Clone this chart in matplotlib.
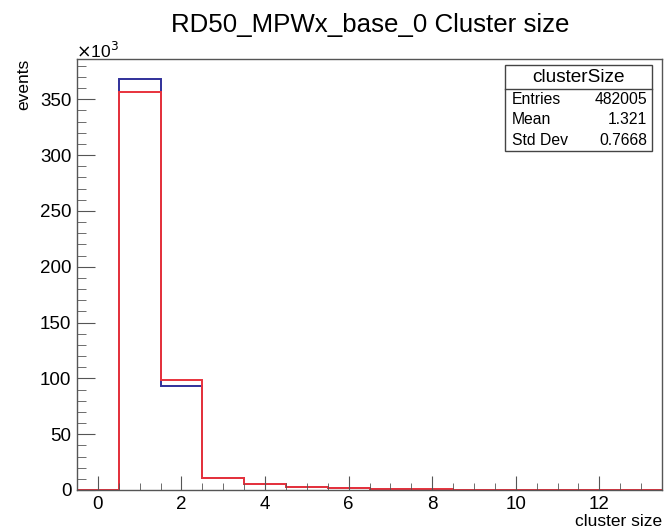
import numpy as np
import matplotlib.pyplot as plt
from matplotlib.ticker import MultipleLocator, FuncFormatter
from matplotlib.patches import Rectangle

plt.rcParams['font.family'] = ['Liberation Sans', 'DejaVu Sans']

# cluster size histogram, 14 unit bins centred on 0..13
bin_edges = np.arange(-0.5, 14.0, 1.0)
counts_blue = [0, 368000, 93400, 10500, 5000, 2400, 1400, 700, 400, 300, 200, 0, 0, 0]
counts_red = [0, 356000, 98300, 11000, 5600, 2800, 1700, 900, 500, 300, 200, 100, 50, 0]

stat_names = ["Entries", "Mean", "Std Dev"]
stat_values = ["482005", "1.321", "0.7668"]

W, H = 664, 528
fig = plt.figure(figsize=(W / 100, H / 100), dpi=100)
ax = fig.add_axes([77 / W, 1 - 490 / H, (662 - 77) / W, (490 - 59) / H])

ax.stairs(counts_blue, bin_edges, color='#30309a', lw=1.4, baseline=0)
ax.stairs(counts_red, bin_edges, color='#e8323c', lw=1.4, baseline=0)

ax.set_xlim(-0.5, 13.5)
ax.set_ylim(0, 386000)

ax.xaxis.set_major_locator(MultipleLocator(2))
ax.xaxis.set_minor_locator(MultipleLocator(0.5))
ax.yaxis.set_major_locator(MultipleLocator(50000))
ax.yaxis.set_minor_locator(MultipleLocator(10000))
ax.yaxis.set_major_formatter(FuncFormatter(lambda v, p: f"{v / 1000:g}"))

ax.tick_params(which='both', direction='in', top=False, right=False,
               labelsize=13.5, color='#555555')
ax.tick_params(axis='x', which='major', length=10, pad=4)
ax.tick_params(axis='x', which='minor', length=5)
ax.tick_params(axis='y', which='major', length=13, pad=4)
ax.tick_params(axis='y', which='minor', length=6.5)
for s in ax.spines.values():
    s.set_color('#555555')
    s.set_linewidth(1.0)

fig.text(370 / W, 1 - 25 / H, "RD50_MPWx_base_0 Cluster size", ha='center', va='center', fontsize=18.6)
fig.text(24 / W, 1 - 59 / H, "events", rotation=90, ha='center', va='top', fontsize=12.5)
fig.text(662 / W, 1 - 526 / H, "cluster size", ha='right', va='baseline', fontsize=12.5)
fig.text(76 / W, 1 - 51 / H, r"$\times$10$^{3}$", ha='left', va='center', fontsize=12.5)

# stats box
bx0, bx1, by0, by1, byh = 505, 652, 65, 151, 89
fig.patches.append(Rectangle((bx0 / W, 1 - by1 / H), (bx1 - bx0) / W, (by1 - by0) / H,
                             transform=fig.transFigure, fill=True, facecolor='white',
                             edgecolor='#444444', lw=1.0))
fig.add_artist(plt.Line2D([bx0 / W, bx1 / W], [1 - byh / H, 1 - byh / H],
                          transform=fig.transFigure, color='#444444', lw=1.0))
fig.text((bx0 + bx1) / 2 / W, 1 - (by0 + byh) / 2 / H, "clusterSize",
         ha='center', va='center', fontsize=13.7)
row_h = (by1 - byh) / 3
for i, (n, v) in enumerate(zip(stat_names, stat_values)):
    yc = 1 - (byh + row_h * (i + 0.5)) / H
    fig.text((bx0 + 7) / W, yc, n, ha='left', va='center', fontsize=11.3)
    fig.text((bx1 - 5) / W, yc, v, ha='right', va='center', fontsize=11.3)

fig.savefig("out.png", dpi=100)
